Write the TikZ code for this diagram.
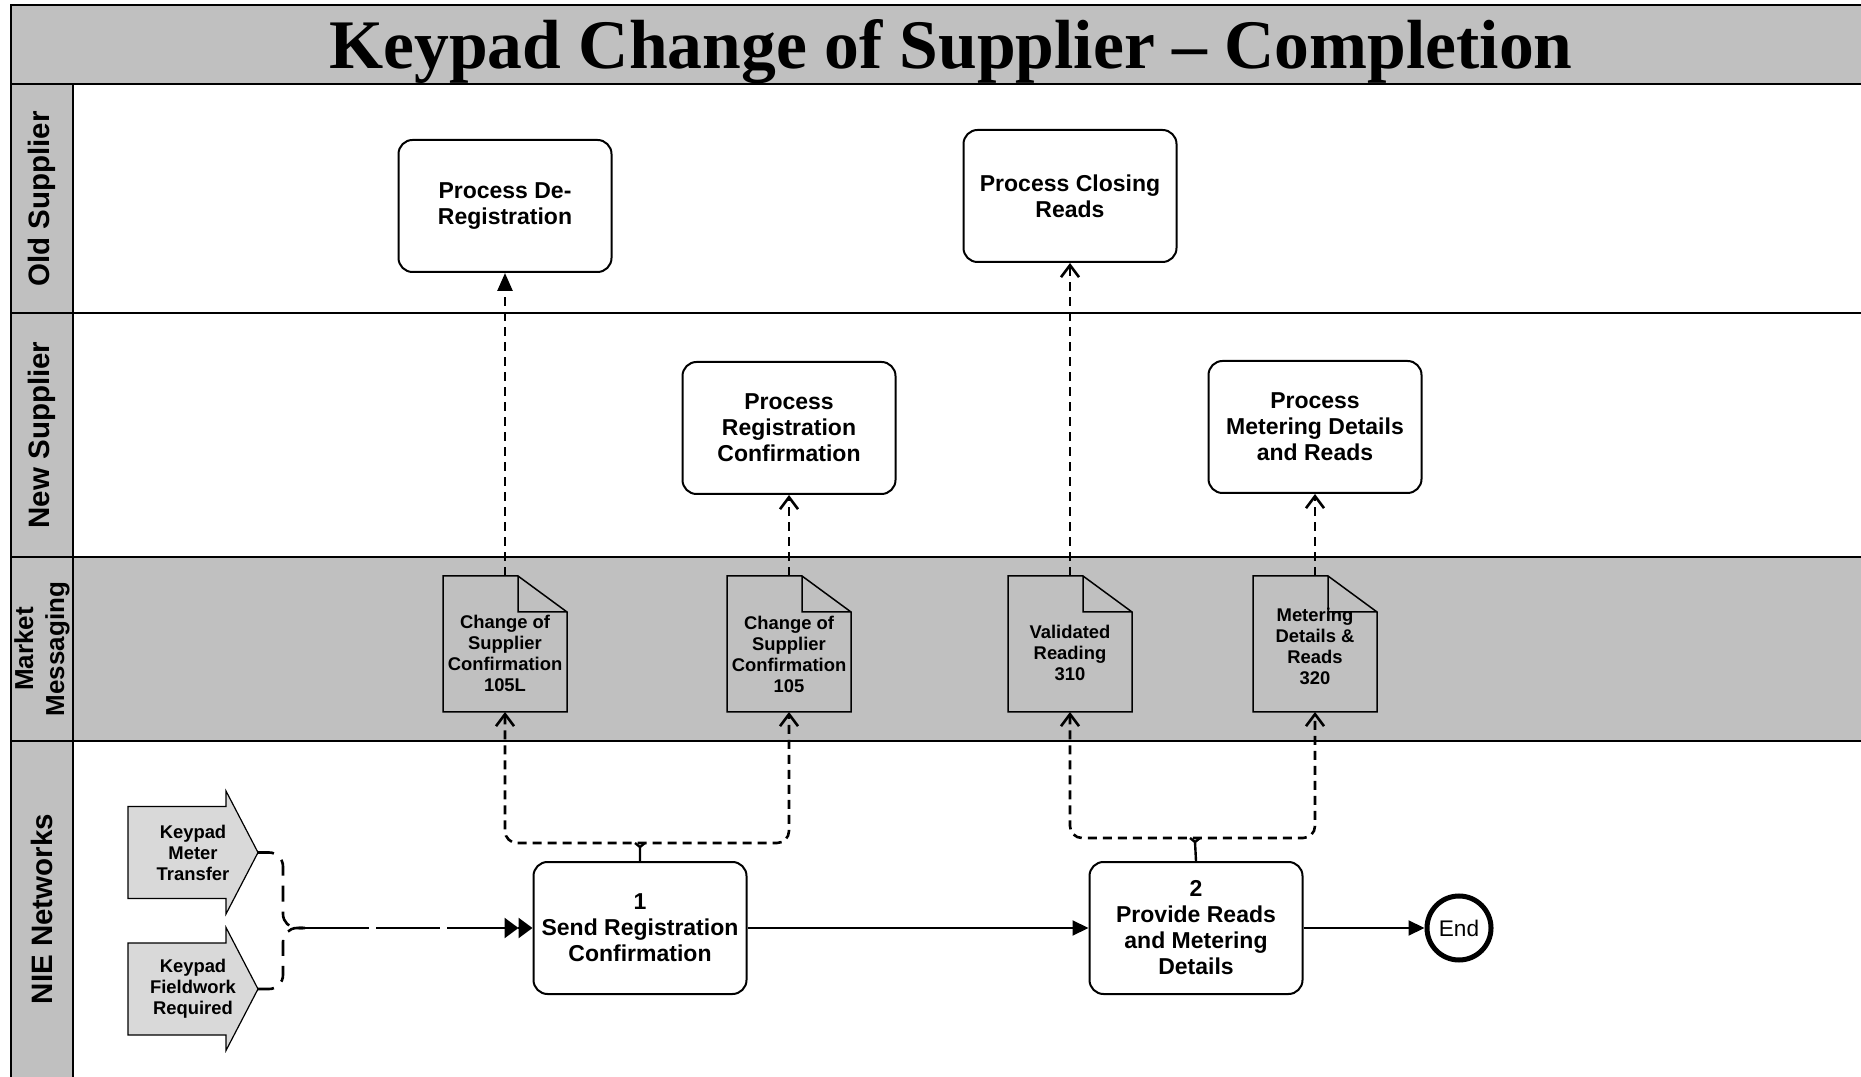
\documentclass[tikz,border=0pt]{standalone}
\usepackage{fontspec}
\setmainfont{Liberation Serif}
\setsansfont{Liberation Sans}
\usetikzlibrary{positioning,arrows.meta}

\definecolor{lanegray}{RGB}{192,192,192}
\definecolor{keygray}{RGB}{217,217,217}

\tikzset{
  procbox/.style={draw, fill=white, line width=1pt, rounded corners=7pt,
    minimum width=106.5pt, minimum height=66pt, inner sep=2pt, align=center,
    font=\sffamily\bfseries\fontsize{11.5pt}{13pt}\selectfont},
  msgdoc/.style={minimum width=62pt, minimum height=68pt, inner sep=0pt, outer sep=0pt},
  msgtext/.style={align=center, inner sep=0pt,
    font=\sffamily\bfseries\fontsize{9.2pt}{10.5pt}\selectfont},
  keyshape/.style={minimum width=65pt, minimum height=61.5pt, inner sep=0pt, outer sep=0pt},
  lanelabel/.style={rotate=90, align=center, inner sep=0pt,
    font=\sffamily\bfseries\fontsize{14.75pt}{17pt}\selectfont},
  lane/.style={line width=1.2pt},
  msgline/.style={line width=1.3pt, dash pattern=on 4.5pt off 3pt},
  barb/.style={arrows={-Straight Barb[length=6pt,width=9pt]}},
  barbs/.style={arrows={Straight Barb[length=6pt,width=9pt]-Straight Barb[length=6pt,width=9pt]}},
  flow/.style={line width=1pt, arrows={-Triangle[length=8pt,width=7.5pt]}},
}

\begin{document}
\begin{tikzpicture}[x=0.5pt, y=0.5pt]
\useasboundingbox (0,0) rectangle (1861,1076);

% lanes
\fill[white] (0,0) rectangle (1861,1076);
\fill[lanegray] (73,335) rectangle (1870,519);
\fill[lanegray] (11,-5) rectangle (73,992);
\draw[line width=1pt, fill=lanegray] (11,992) rectangle (1870,1071);
\draw[lane] (11,763) -- (1870,763);
\draw[lane] (11,519) -- (1870,519);
\draw[lane] (11,335) -- (1870,335);
\draw[lane] (11,-5) -- (11,992);
\draw[lane] (73,-5) -- (73,992);

\node[anchor=base, inner sep=0pt, font=\bfseries\fontsize{34.8pt}{40pt}\selectfont] (title) at (951,1007) {Keypad Change of Supplier -- Completion};

\node[lanelabel] (lold) at (42,877) {Old Supplier};
\node[lanelabel] (lnew) at (42,641) {New Supplier};
\node[lanelabel, font=\sffamily\bfseries\fontsize{13pt}{15.5pt}\selectfont] (lmm) at (42,427) {Market\\Messaging};
\node[lanelabel] (lnie) at (42,167) {NIE Networks};

% market messages
\node[msgdoc] (m105L) at (505,432) {};
\node[msgdoc] (m105) at (789,432) {};
\node[msgdoc] (m310) at (1070,432) {};
\node[msgdoc] (m320) at (1315,432) {};
\foreach \d in {m105L,m105,m310,m320}
  \draw[line width=0.75pt, fill=lanegray] (\d.south west) -- (\d.north west)
    -- ([xshift=-24.5pt]\d.north east) -- ([yshift=-18pt]\d.north east)
    -- (\d.south east) -- cycle
    ([xshift=-24.5pt]\d.north east) |- ([yshift=-18pt]\d.north east);
\node[msgtext] (t105L) at ([yshift=-4.5pt]m105L.center) {Change of\\Supplier\\Confirmation\\105L};
\node[msgtext] (t105) at ([yshift=-5pt]m105.center) {Change of\\Supplier\\Confirmation\\105};
\node[msgtext] (t310) at ([yshift=-4.5pt]m310.center) {Validated\\Reading\\310};
\node[msgtext] (t320) at ([yshift=-1pt]m320.center) {Metering\\Details \&\\Reads\\320};

% supplier processes
\node[procbox] (deReg) [above=151.5pt of m105L] {Process De-\\Registration};
\node[procbox] (closing) [above=156.5pt of m310] {Process Closing\\Reads};
\node[procbox] (regConf) [above=40.5pt of m105] {Process\\Registration\\Confirmation};
\node[procbox] (metering) [above=41pt of m320] {Process\\Metering Details\\and Reads};

% NIE Networks
\node[procbox] (send) at (640,148) {1\\Send Registration\\Confirmation};
\node[procbox] (provide) [right=170.5pt of send] {2\\Provide Reads\\and Metering\\Details};
\node[draw, circle, line width=2.5pt, minimum size=32pt, inner sep=0pt,
  font=\sffamily\fontsize{11.3pt}{13pt}\selectfont] (endc) [right=60.5pt of provide] {End};

\node[keyshape] (kmt) at (193,223.5) {};
\node[keyshape] (kfr) at (193,87) {};
\foreach \k in {kmt,kfr}
  \draw[line width=0.6pt, fill=keygray] ([yshift=23pt]\k.west) -- ([xshift=49pt,yshift=23pt]\k.west)
    -- ([xshift=49pt]\k.north west) -- (\k.east) -- ([xshift=49pt]\k.south west)
    -- ([xshift=49pt,yshift=-23pt]\k.west) -- ([yshift=-23pt]\k.west) -- cycle;
\node[msgtext] (tkmt) at (kmt) {Keypad\\Meter\\Transfer};
\node[msgtext] (tkfr) at (kfr) {Keypad\\Fieldwork\\Required};

% connectors
\coordinate (bj) at (283,148);
\draw[msgline, dash pattern=on 8pt off 5pt, rounded corners=7pt] (kmt.east) -| (bj) -- ++(22,0);
\draw[msgline, dash pattern=on 8pt off 5pt, rounded corners=7pt] (kfr.east) -| (bj) -- ++(22,0);
\draw[line width=1.2pt, dash pattern=on 32pt off 3.5pt,
  arrows={-Triangle[length=7pt,width=10pt] Triangle[length=7pt,width=10pt]}] ([xshift=11pt]bj) -- (send.west);

\draw[flow] (send) -- (provide);
\draw[flow] (provide) -- (endc);

\coordinate (j1) at (640,233);
\coordinate (v1) at (640,229);
\draw[line width=1.2pt] (send.north) -- (v1) -- ++(-5,4) (v1) -- ++(5,4);
\draw[msgline, barbs, rounded corners=6pt] (m105L.south) -- (m105L.south |- j1) -- (m105.south |- j1) -- (m105.south);

\coordinate (j2) at (1195,238);
\coordinate (v2) at (1195,234);
\draw[line width=1.2pt] (provide.north) -- (v2) -- ++(-5,4) (v2) -- ++(5,4);
\draw[msgline, barbs, rounded corners=6pt] (m310.south) -- (m310.south |- j2) -- (m320.south |- j2) -- (m320.south);

\draw[msgline, arrows={-Triangle[length=9pt,width=7.5pt]}] (m105L.north) -- (deReg.south);
\draw[msgline, barb] (m105.north) -- (regConf.south);
\draw[msgline, barb] (m310.north) -- (closing.south);
\draw[msgline, barb] (m320.north) -- (metering.south);
\end{tikzpicture}
\end{document}
